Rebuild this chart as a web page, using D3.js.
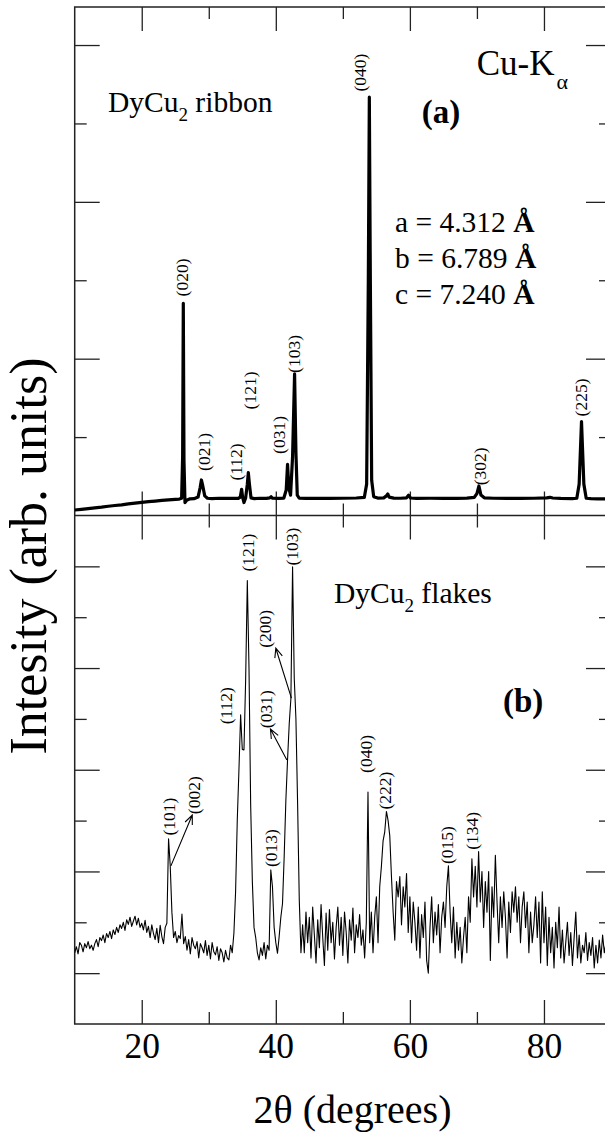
<!DOCTYPE html>
<html>
<head>
<meta charset="utf-8">
<script src="https://cdn.jsdelivr.net/npm/d3@7"></script>
<style>
  body { margin: 0; background: #fff; }
  svg { display: block; }
  text { font-family: "Liberation Serif", "Times New Roman", serif; fill: #000; }
</style>
</head>
<body>
<div id="chart"></div>
<script>
// ---- data ----

// (a) ribbon pattern: 2theta (deg) and counts
var ribbonTheta = [10,11,12,13,14,15,16,17,18,19,20,21,22,23,24,25,25.6,25.95,26.1,26.2,26.3,26.45,26.7,27.2,27.8,
  28.4,28.7,28.9,29.1,29.4,29.8,30.5,31.5,32.5,33.5,34.4,34.7,34.9,35.05,35.25,35.5,35.75,35.9,36.05,36.3,36.8,
  37.6,38.6,39.1,39.3,39.5,40.4,41.2,41.55,41.75,41.95,42.2,42.5,42.8,43.0,43.2,43.5,44.5,46,48,50,52,53.2,53.55,
  53.8,53.95,54.1,54.3,54.6,55.2,56.1,56.5,56.7,56.9,57.6,58.6,59.5,59.8,60.1,61,63,65,67,68.5,69.6,70,70.3,70.6,
  71.1,72.5,74.5,76.5,78.5,80.4,80.9,81.3,82.5,84.2,84.9,85.25,85.6,85.95,86.3,87,88,89,90];
var ribbonCounts = [140,158,176,196,214,236,255,272,295,316,337,352,368,385,398,413,420,440,1500,5413,1400,330,390,425,430,
  470,700,906,760,500,440,432,440,436,440,436,470,668,460,330,450,800,1092,820,450,430,
  440,436,450,480,440,436,445,650,1306,700,520,1500,3610,1600,520,440,436,440,436,440,446,460,800,
  6000,10671,6000,900,480,444,450,500,548,470,444,440,450,515,446,436,440,438,436,442,460,560,753,520,
  450,440,438,436,440,450,464,446,436,432,440,800,2393,800,440,430,426,422,420];

// (b) flakes pattern: 2theta (deg) and counts
var flakesTheta = [
  10,10.25,10.5,10.75,11,11.25,11.5,11.75,12,12.25,12.5,12.75,13,13.25,13.5,13.75,14,14.25,14.5,14.75,
  15,15.25,15.5,15.75,16,16.25,16.5,16.75,17,17.25,17.5,17.75,18,18.25,18.5,18.75,19,19.25,19.5,19.75,
  20,20.25,20.5,20.75,21,21.25,21.5,21.75,22,22.25,22.5,22.75,23,23.25,23.5,23.75,24,24.25,24.5,24.75,
  25,25.25,25.5,25.75,26,26.25,26.5,26.75,27,27.25,27.5,27.75,28,28.25,28.5,28.75,29,29.25,29.5,29.75,
  30,30.25,30.5,30.75,31,31.25,31.5,31.75,32,32.25,32.5,32.75,33,33.25,33.5,33.75,34,34.25,34.5,34.75,
  35,35.25,35.5,35.75,36,36.25,36.5,36.75,37,37.25,37.5,37.75,38,38.25,38.5,38.75,39,39.25,39.5,39.75,
  40,40.25,40.5,40.75,41,41.25,41.5,41.75,42,42.25,42.5,42.75,43,43.25,43.5,43.75,44,44.25,44.5,44.75,
  45,45.25,45.5,45.75,46,46.25,46.5,46.75,47,47.25,47.5,47.75,48,48.25,48.5,48.75,49,49.25,49.5,49.75,
  50,50.25,50.5,50.75,51,51.25,51.5,51.75,52,52.25,52.5,52.75,53,53.25,53.5,53.75,54,54.25,54.5,54.75,
  55,55.25,55.5,55.75,56,56.25,56.5,56.75,57,57.25,57.5,57.75,58,58.25,58.5,58.75,59,59.25,59.5,59.75,
  60,60.25,60.5,60.75,61,61.25,61.5,61.75,62,62.25,62.5,62.75,63,63.25,63.5,63.75,64,64.25,64.5,64.75,
  65,65.25,65.5,65.75,66,66.25,66.5,66.75,67,67.25,67.5,67.75,68,68.25,68.5,68.75,69,69.25,69.5,69.75,
  70,70.25,70.5,70.75,71,71.25,71.5,71.75,72,72.25,72.5,72.75,73,73.25,73.5,73.75,74,74.25,74.5,74.75,
  75,75.25,75.5,75.75,76,76.25,76.5,76.75,77,77.25,77.5,77.75,78,78.25,78.5,78.75,79,79.25,79.5,79.75,
  80,80.25,80.5,80.75,81,81.25,81.5,81.75,82,82.25,82.5,82.75,83,83.25,83.5,83.75,84,84.25,84.5,84.75,
  85,85.25,85.5,85.75,86,86.25,86.5,86.75,87,87.25,87.5,87.75,88,88.25,88.5,88.75,89,89.25,89.5,89.75,
  90];
var flakesCounts = [
  140,152,138,160,155,142,158,150,162,148,155,145,158,166,152,170,164,175,160,178,
  170,182,168,185,176,190,180,195,188,200,184,205,196,210,192,202,212,195,208,190,
  198,185,204,180,192,170,195,178,166,188,160,194,172,158,190,198,364,311,220,170,
  182,160,174,168,216,158,172,145,166,138,170,155,148,162,130,158,150,140,164,135,
  155,128,160,142,136,152,125,148,140,122,145,130,126,155,140,179,260,400,500,608,
  540,539,677,872,700,430,280,190,170,140,126,150,135,160,128,155,145,303,270,190,
  160,139,172,210,237,330,440,519,590,640,899,680,600,434,244,140,195,140,220,160,
  210,130,230,175,120,205,150,235,170,115,218,145,225,160,200,128,190,230,155,210,
  135,220,180,120,205,165,228,140,195,170,215,155,185,130,200,456,160,220,140,210,
  250,160,270,310,360,378,418,400,370,290,220,165,280,250,290,195,270,230,296,180,
  250,160,240,200,145,230,130,215,170,240,125,100,190,250,160,220,175,235,140,210,
  240,190,270,311,220,160,230,130,200,145,190,120,170,210,140,250,200,325,250,310,
  230,339,240,300,190,280,220,300,125,270,210,332,240,160,250,190,260,210,130,240,
  180,260,220,270,200,250,160,230,260,190,240,140,220,160,195,250,170,240,120,260,
  160,230,115,210,140,190,110,200,150,230,130,185,120,160,200,135,180,115,170,220,
  130,175,120,155,140,180,125,160,135,170,110,155,120,165,130,175,140,160,125,150,
  145];

// axis ticks
var xMajor = [20, 40, 60, 80];
var xMinor = [30, 50, 70];
var yMajorA = [4000, 8000, 12000];
var yMinorA = [2000, 6000, 10000];
var yMajorB = [100, 300, 500, 700, 900];
var yMinorB = [200, 400, 600, 800];

// peak labels: hkl, label centre (2theta, counts)
var hklA = ["(020)", "(021)", "(112)", "(121)", "(031)", "(103)", "(040)", "(302)", "(225)"];
var hklAPos = [[25.97, 6071], [29.3, 1620], [34.07, 1365], [36.2, 3189], [40.5, 2054], [42.67, 4120], [52.52, 11296], [70.5, 1255], [85.57, 3010]];
var hklB = ["(101)", "(002)", "(112)", "(121)", "(013)", "(031)", "(200)", "(103)", "(040)", "(222)", "(015)", "(134)"];
var hklBPos = [[24.0, 408], [27.8, 450], [32.6, 626], [35.84, 927], [39.3, 346], [38.5, 619], [38.4, 777], [42.33, 939], [53.4, 531], [56.34, 459], [65.5, 352], [69.2, 380]];
// arrows in (b): from peak shoulder to label
var arrowsB = [[[24.35, 311], [27.54, 411]], [[41.65, 519], [39.2, 580]], [[42.33, 641], [40.0, 739]]];

// ---- layout ----
var W = 605, H = 1139;
var plotL = 74.7, plotR = 611, plotT = 7, plotMid = 515.5, plotB = 1024;

var svg = d3.select("#chart").append("svg")
    .attr("width", W)
    .attr("height", H);

var x = d3.scaleLinear().domain([10, 90]).range([plotL, plotR]);
var yA = d3.scaleLinear().domain([0, 12970]).range([plotMid, plotT]);
var yB = d3.scaleLinear().domain([0, 1000]).range([plotB, plotMid]);

svg.append("clipPath").attr("id", "clipA")
  .append("rect").attr("x", plotL).attr("y", plotT).attr("width", plotR - plotL).attr("height", plotMid - plotT);
svg.append("clipPath").attr("id", "clipB")
  .append("rect").attr("x", plotL).attr("y", plotMid).attr("width", plotR - plotL).attr("height", plotB - plotMid);

// ticks helper
function ticks(axis, tr, size) {
  var g = svg.append("g")
    .attr("transform", tr)
    .call(axis.tickSize(size).tickSizeOuter(0).tickFormat(""));
  g.select(".domain").remove();
  g.selectAll("line").attr("stroke", "#222").attr("stroke-width", 1.3);
  return g;
}

// x ticks: bottom of each panel and top of each panel, all inward
[plotMid, plotB].forEach(function(yy) {
  ticks(d3.axisBottom(x).tickValues(xMajor), "translate(0," + yy + ")", -24);
  ticks(d3.axisBottom(x).tickValues(xMinor), "translate(0," + yy + ")", -12);
});
[plotT, plotMid].forEach(function(yy) {
  ticks(d3.axisTop(x).tickValues(xMajor), "translate(0," + yy + ")", -24);
  ticks(d3.axisTop(x).tickValues(xMinor), "translate(0," + yy + ")", -12);
});

// y ticks, left and right, inward
[[yA, yMajorA, yMinorA], [yB, yMajorB, yMinorB]].forEach(function(p) {
  ticks(d3.axisLeft(p[0]).tickValues(p[1]), "translate(" + plotL + ",0)", -25);
  ticks(d3.axisLeft(p[0]).tickValues(p[2]), "translate(" + plotL + ",0)", -12);
  ticks(d3.axisRight(p[0]).tickValues(p[1]), "translate(" + plotR + ",0)", -25);
  ticks(d3.axisRight(p[0]).tickValues(p[2]), "translate(" + plotR + ",0)", -12);
});

// x tick labels
var xl = svg.append("g")
  .attr("transform", "translate(0," + plotB + ")")
  .call(d3.axisBottom(x).tickValues(xMajor).tickSize(0).tickPadding(8.5).tickFormat(d3.format("d")));
xl.select(".domain").remove();
xl.selectAll("text")
  .style("font-family", "'Liberation Serif', serif")
  .style("font-size", "35.5px")
  .attr("fill", "#000");

// frame
svg.append("rect")
  .attr("x", plotL).attr("y", plotT)
  .attr("width", plotR - plotL).attr("height", plotB - plotT)
  .attr("fill", "none").attr("stroke", "#222").attr("stroke-width", 1.5);
svg.append("line")
  .attr("x1", plotL).attr("x2", plotR).attr("y1", plotMid).attr("y2", plotMid)
  .attr("stroke", "#222").attr("stroke-width", 1.5);

// patterns
var lineA = d3.line().x(function(d, i) { return x(ribbonTheta[i]); }).y(function(d) { return yA(d); });
var lineB = d3.line().x(function(d, i) { return x(flakesTheta[i]); }).y(function(d) { return yB(d); });

svg.append("path")
  .datum(ribbonCounts)
  .attr("clip-path", "url(#clipA)")
  .attr("d", lineA)
  .attr("fill", "none").attr("stroke", "#000")
  .attr("stroke-width", 3.2).attr("stroke-linejoin", "round");

svg.append("path")
  .datum(flakesCounts)
  .attr("clip-path", "url(#clipB)")
  .attr("d", lineB)
  .attr("fill", "none").attr("stroke", "#000")
  .attr("stroke-width", 1.1).attr("stroke-linejoin", "round");

// peak labels
function hklLabels(names, pos, y) {
  svg.append("g").selectAll("text")
    .data(names)
    .enter()
    .append("text")
      .attr("transform", function(d, i) {
        return "translate(" + x(pos[i][0]) + "," + y(pos[i][1]) + ")rotate(-90)";
      })
      .attr("text-anchor", "middle")
      .attr("dy", "0.35em")
      .style("font-size", "17.5px")
      .text(function(d) { return d; });
}
hklLabels(hklA, hklAPos, yA);
hklLabels(hklB, hklBPos, yB);

// arrows (b)
arrowsB.forEach(function(a) {
  var x0 = x(a[0][0]), y0 = yB(a[0][1]), x1 = x(a[1][0]), y1 = yB(a[1][1]);
  var ang = Math.atan2(y1 - y0, x1 - x0), len = 10, spread = 0.4;
  var p = d3.path();
  p.moveTo(x0, y0); p.lineTo(x1, y1);
  p.moveTo(x1 - len * Math.cos(ang - spread), y1 - len * Math.sin(ang - spread));
  p.lineTo(x1, y1);
  p.lineTo(x1 - len * Math.cos(ang + spread), y1 - len * Math.sin(ang + spread));
  svg.append("path").attr("d", p.toString())
    .attr("fill", "none").attr("stroke", "#000").attr("stroke-width", 1.1);
});

// panel texts
function sample(xp, yp, name, suffix) {
  var t = svg.append("text").attr("x", xp).attr("y", yp).style("font-size", "29.5px");
  t.append("tspan").text(name);
  t.append("tspan").attr("dy", 9).style("font-size", "19px").text("2");
  t.append("tspan").attr("dy", -9).text(suffix);
}
sample(108, 111.7, "DyCu", " ribbon");
sample(334, 603.3, "DyCu", " flakes");

var cu = svg.append("text").attr("x", 476.7).attr("y", 75).style("font-size", "35px");
cu.append("tspan").text("Cu-K");
cu.append("tspan").attr("dx", 2).attr("dy", 14).style("font-size", "22px").text("\u03b1");

svg.append("text").attr("x", 421.7).attr("y", 123)
  .style("font-size", "33px").style("font-weight", "bold").text("(a)");
svg.append("text").attr("x", 503).attr("y", 712)
  .style("font-size", "33px").style("font-weight", "bold").text("(b)");

var cell = [["a = 4.312 ", 231.7], ["b = 6.789 ", 268], ["c = 7.240 ", 303.5]];
cell.forEach(function(c) {
  var t = svg.append("text").attr("x", 395).attr("y", c[1]).style("font-size", "29.5px");
  t.append("tspan").text(c[0]);
  t.append("tspan").style("font-weight", "bold").text("\u00c5");
});

// axis titles
svg.append("text")
  .attr("x", 352.5).attr("y", 1122.7)
  .attr("text-anchor", "middle")
  .style("font-size", "40px")
  .text("2\u03b8 (degrees)");

svg.append("text")
  .attr("transform", "translate(46,556)rotate(-90)")
  .attr("text-anchor", "middle")
  .style("font-size", "52px")
  .text("Intesity (arb. units)");
</script>
</body>
</html>
